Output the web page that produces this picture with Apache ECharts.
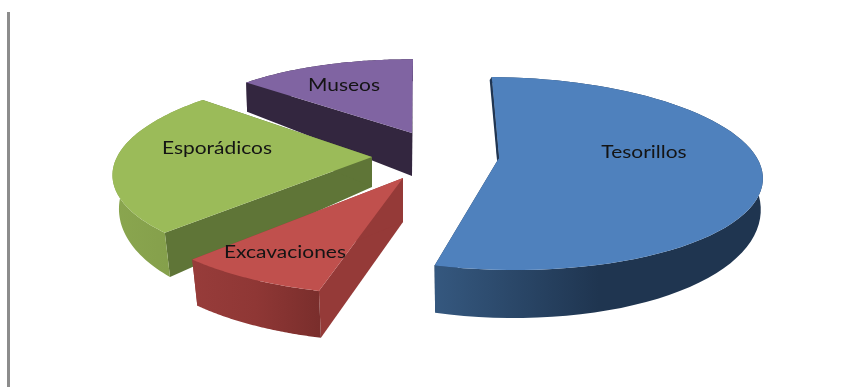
<!DOCTYPE html>
<html>
<head>
<meta charset="utf-8">
<style>html,body{margin:0;padding:0;background:#fff}#c{width:848px;height:387px}</style>
<script src="https://cdn.jsdelivr.net/npm/echarts@6/dist/echarts.min.js"></script>
</head>
<body>
<div id="c"></div>
<script>
var categories = ['Tesorillos', 'Excavaciones', 'Esporádicos', 'Museos'];
var shares = [53.9, 8.1, 24.1, 13.9];
var firstAngle = 1;

// Projection of each exploded slice: apex, radii, perspective, shear, extrusion
var layout = {
  Tesorillos:   {order:1, ax:499, ay:158, rx:258, ry:94,  k:.161, s:13,  d0:27, d1:21, t:.992,
                 top:'#4F81BD', face:'#1F3552', side:['#35587F','#1F3550','#1F3550'], lx:145, ly:-5, sliver:true},
  Excavaciones: {order:3, ax:403, ay:178, rx:276, ry:105.6, k:.1, s:-4.5, d0:44, d1:3, t:.976,
                 top:'#C0504D', face:'#953A38', side:['#973C3A','#8F3735','#7A2E2C'], lx:-118, ly:75},
  'Esporádicos':{order:2, ax:372, ay:157, rx:255, ry:95, k:.14, s:-12, d0:30, d1:20, t:.975,
                 top:'#9BBB59', face:'#5F7537', side:['#8AA64F','#86A14C','#809B48'], lx:-155, ly:-8},
  Museos:       {order:0, ax:412, ay:133, rx:237, ry:84,  k:.14, s:3,  d0:43, d1:21, t:.995,
                 top:'#8064A2', face:'#33263F', side:['#33263F','#33263F','#33263F'], lx:-68, ly:-47}
};

function project(L, deg) {
  var a = deg * Math.PI / 180, u = Math.sin(a), v = -Math.cos(a), f = 1 / (1 - L.k * v);
  var x = L.ax + (L.rx * u + L.s * v) * f, y = L.ay + L.ry * v * f, d = L.d0 + L.d1 * v;
  return {top:[x, y], bot:[L.ax + (x - L.ax) * L.t, y + d]};
}

var total = shares.reduce(function (a, b) { return a + b; }, 0);
var seriesData = categories.map(function (name, i) { return {name:name, value:shares[i]}; });

function renderItem(params, api) {
  var i = params.dataIndex, name = categories[i], L = layout[name];
  var start = firstAngle;
  for (var j = 0; j < i; j++) start += shares[j] / total * 360;
  var end = start + api.value(0) / total * 360, N = 70;
  var topArc = [], botArc = [], minX = 1e9, maxX = -1e9;
  for (var n = 0; n <= N; n++) {
    var p = project(L, start + (end - start) * n / N);
    topArc.push(p.top); botArc.push(p.bot);
    minX = Math.min(minX, p.top[0]); maxX = Math.max(maxX, p.top[0]);
  }
  var apexTop = [L.ax, L.ay], apexBot = [L.ax, L.ay + L.d0];
  var base = L.order * 10, kids = [];
  function poly(points, fill, z) {
    kids.push({type:'polygon', z2:base + z, shape:{points:points},
      style:{fill:fill, stroke:null}});
  }
  poly([apexTop, topArc[0], botArc[0], apexBot], L.face, 0);
  poly([apexTop, topArc[N], botArc[N], apexBot], L.face, 0);
  poly(topArc.concat(botArc.slice().reverse()), {
    type:'linear', x:minX, y:0, x2:maxX, y2:0, global:true,
    colorStops:[{offset:0, color:L.side[0]}, {offset:.5, color:L.side[1]}, {offset:1, color:L.side[2]}]
  }, 1);
  if (L.sliver) {
    var c = topArc[0];
    poly([c, apexTop, [L.ax - 2, L.ay + 2], [c[0] - 2, c[1] + 3]], L.face, 3);
  }
  poly([apexTop].concat(topArc), L.top, 2);
  kids.push({type:'text', z2:100, x:L.ax + L.lx, y:L.ay + L.ly, scaleX:1.27, style:{
    x:0, y:0, text:name, align:'center', verticalAlign:'middle',
    fill:'#141414', font:'16.5px Lato, "Open Sans", sans-serif'
  }});
  return {type:'group', children:kids};
}

var chart = echarts.init(document.getElementById('c'), null, {renderer:'canvas'});
chart.setOption({
  animation:false,
  backgroundColor:'#ffffff',
  graphic:[{type:'rect', shape:{x:7, y:12, width:3, height:375}, style:{fill:'#8C8C8C'}}],
  series:[{type:'custom', coordinateSystem:'none', renderItem:renderItem,
           encode:{value:0}, data:seriesData.map(function (d) { return {name:d.name, value:[d.value]}; })}]
});
</script>
</body>
</html>
